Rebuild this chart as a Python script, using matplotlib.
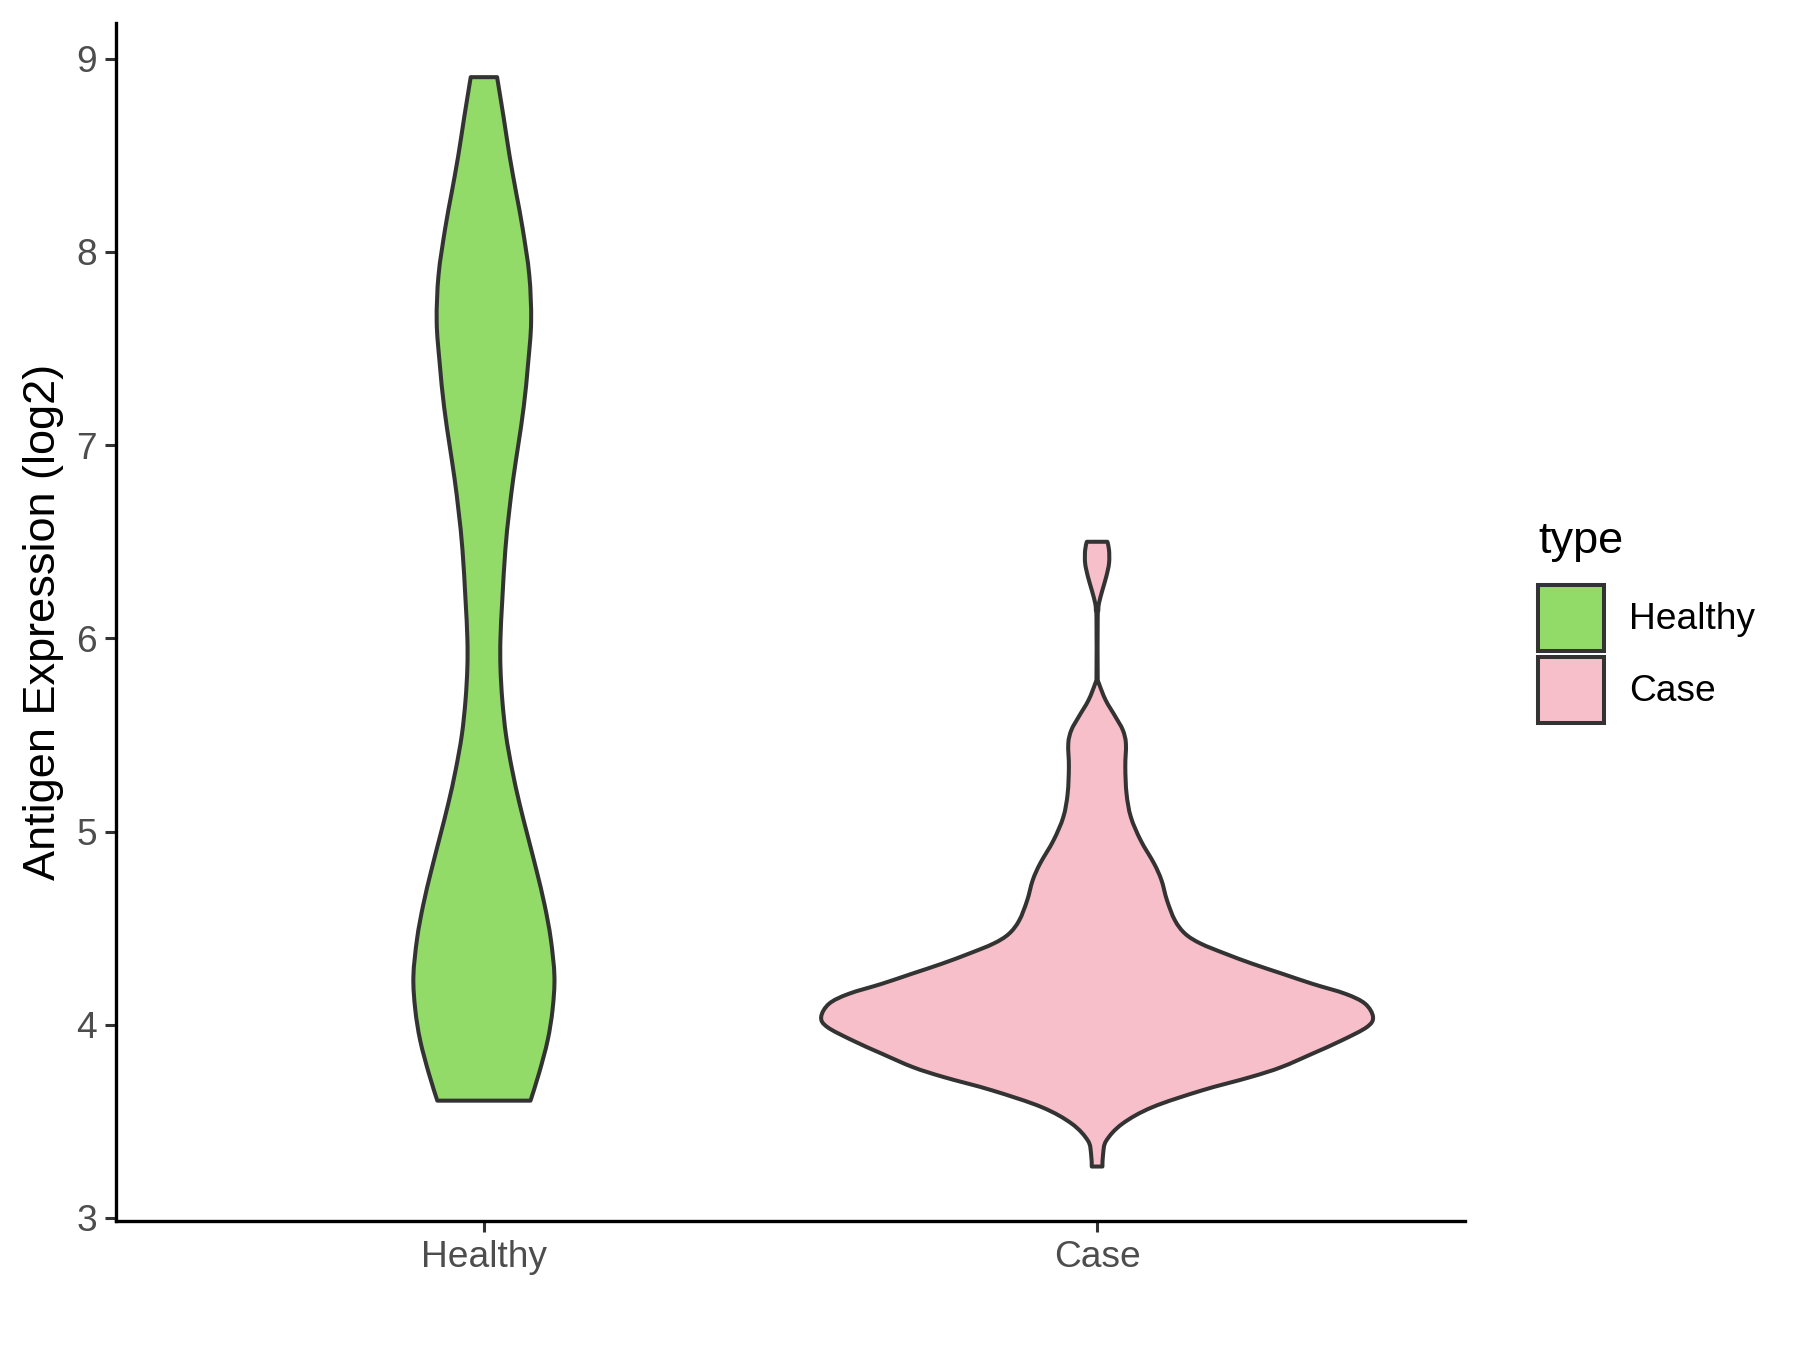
import numpy as np
import matplotlib
matplotlib.use("Agg")
import matplotlib.pyplot as plt
from matplotlib.path import Path
from matplotlib.patches import PathPatch, Patch

plt.rcParams['font.family'] = ['Liberation Sans', 'DejaVu Sans']

categories = ["Healthy", "Case"]
fill_colors = ["#93DB69", "#F7BFCA"]
y_ticks = [3, 4, 5, 6, 7, 8, 9]

# violin outline: half-width (x-axis units) at given expression levels
healthy_y = [3.607, 3.75, 3.92, 4.08, 4.25, 4.445, 4.62, 4.796, 4.97, 5.146,
             5.32, 5.50, 5.68, 5.85, 6.00, 6.20, 6.46, 6.65, 6.83, 7.00,
             7.20, 7.42, 7.64, 7.88, 8.125, 8.30, 8.495, 8.70, 8.905]
healthy_hw = [0.076, 0.090, 0.104, 0.112, 0.115, 0.109, 0.099, 0.086, 0.072, 0.058,
              0.046, 0.036, 0.030, 0.027, 0.027, 0.030, 0.035, 0.041, 0.048, 0.056,
              0.065, 0.072, 0.077, 0.074, 0.063, 0.053, 0.042, 0.032, 0.0215]

case_y = [3.266, 3.331, 3.40, 3.487, 3.573, 3.660, 3.729, 3.78, 3.85, 3.919,
          3.988, 4.04, 4.109, 4.16, 4.212, 4.264, 4.316, 4.368, 4.42, 4.47,
          4.54, 4.644, 4.748, 4.834, 4.955, 5.076, 5.197, 5.335, 5.455, 5.525,
          5.594, 5.68, 5.767, 5.80, 6.10, 6.146, 6.181, 6.25, 6.32, 6.389,
          6.457, 6.50]
case_hw = [0.0087, 0.0098, 0.015, 0.041, 0.090, 0.171, 0.250, 0.300, 0.351, 0.399,
           0.440, 0.450, 0.437, 0.405, 0.351, 0.302, 0.253, 0.209, 0.169, 0.144,
           0.127, 0.114, 0.105, 0.093, 0.071, 0.055, 0.048, 0.046, 0.047, 0.042,
           0.030, 0.014, 0.003, 0.001, 0.001, 0.002, 0.003, 0.0087, 0.015, 0.0195,
           0.0195, 0.0168]


def side_curve(pts):
    """Catmull-Rom -> cubic Bezier segments through pts"""
    verts, codes = [], []
    n = len(pts)
    for i in range(n - 1):
        p0 = pts[max(i - 1, 0)]; p1 = pts[i]
        p2 = pts[i + 1]; p3 = pts[min(i + 2, n - 1)]
        verts += [p1 + (p2 - p0) / 6, p2 - (p3 - p1) / 6, p2]
        codes += [Path.CURVE4] * 3
    return verts, codes


def violin_path(center, ys, hws):
    ys = np.asarray(ys); hws = np.asarray(hws)
    right = np.column_stack([center + hws, ys])
    left = np.column_stack([center - hws, ys])[::-1]
    verts = [right[0]]; codes = [Path.MOVETO]
    v, c = side_curve(right); verts += v; codes += c
    verts.append(left[0]); codes.append(Path.LINETO)
    v, c = side_curve(left); verts += v; codes += c
    verts.append(right[0]); codes.append(Path.CLOSEPOLY)
    return Path(verts, codes)


fig = plt.figure(figsize=(18, 13.5), dpi=100)
ax = fig.add_axes([116/1800, 1 - 1221/1350, (1465 - 116)/1800, (1221 - 22.7)/1350])

outlines = [(healthy_y, healthy_hw), (case_y, case_hw)]
for i, (ys, hws) in enumerate(outlines):
    p = PathPatch(violin_path(i + 1, ys, hws), facecolor=fill_colors[i],
                  edgecolor="#333333", linewidth=2.9, joinstyle="round")
    ax.add_patch(p)

# ggplot-like limits: 5% expansion of data range, 0.6 for discrete x
ymin = min(min(healthy_y), min(case_y)); ymax = max(max(healthy_y), max(case_y))
pad = 0.05 * (ymax - ymin)
ax.set_ylim(ymin - pad, ymax + pad)
ax.set_xlim(0.4, 2.6)

ax.set_xticks([1, 2])
ax.set_xticklabels(categories)
ax.set_yticks(y_ticks)
ax.tick_params(axis="both", direction="out", length=7.7, width=2.2, color="#333333",
               labelsize=26.7, labelcolor="#4D4D4D", pad=6)
for s in ["top", "right"]:
    ax.spines[s].set_visible(False)
for s in ["left", "bottom"]:
    ax.spines[s].set_linewidth(2.4)
    ax.spines[s].set_color("black")

ax.set_ylabel("Antigen Expression (log2)", fontsize=32.5, color="black")
ax.yaxis.set_label_coords(-0.0385, 0.5)

handles = [Patch(facecolor=c, edgecolor="#333333", linewidth=2.9) for c in fill_colors]
leg = fig.legend(handles, categories, title="type", loc="upper left",
                 bbox_to_anchor=(1538/1800, 1 - 521/1350), frameon=False,
                 fontsize=26.7, title_fontsize=32.5, handlelength=1.78, handleheight=2.36,
                 labelspacing=0.16, handletextpad=0.68, borderaxespad=0, borderpad=0)
leg._legend_box.align = "left"
leg._legend_box.sep = 16.5

fig.savefig("out.png", dpi=100)
